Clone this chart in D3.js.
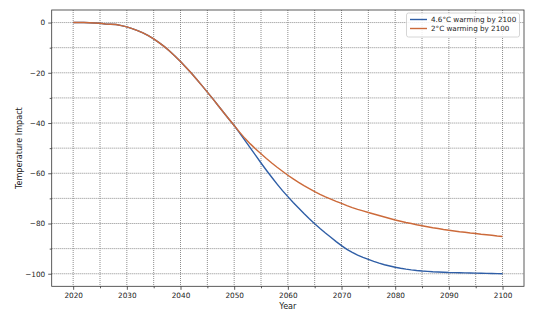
<!DOCTYPE html>
<html><head><meta charset="utf-8">
<script src="https://cdn.jsdelivr.net/npm/d3@7"></script>
<style>body{margin:0;background:#fff}svg{display:block}text{font-family:"DejaVu Sans",sans-serif}</style>
</head><body><svg id="c" width="541" height="322"></svg>
<script>
const years = d3.range(2020, 2101);
const common = [0,0,0,-0.1,-0.2,-0.3,-0.6,-0.7,-0.8,-1.2,-1.7,-2.4,-3.2,-4.1,-5.2,-6.5,-8.0,-9.6,-11.4,-13.4,-15.5,-17.8,-20.1,-22.6,-25.1,-27.7,-30.3,-33.0,-35.7,-38.4,-41.0];
const high = common.concat([-43.9,-46.9,-49.9,-52.9,-55.9,-58.8,-61.6,-64.3,-66.9,-69.3,-71.6,-73.8,-76.0,-78.1,-80.1,-82.0,-83.8,-85.5,-87.2,-88.8,-90.3,-91.5,-92.6,-93.5,-94.3,-95.1,-95.8,-96.4,-96.9,-97.4,-97.8,-98.15,-98.45,-98.7,-98.9,-99.05,-99.2,-99.3,-99.4,-99.5,-99.55,-99.6,-99.65,-99.7,-99.75,-99.8,-99.85,-99.9,-99.95,-100]);
const low = common.concat([-43.6,-46.1,-48.3,-50.3,-52.2,-54.1,-55.9,-57.6,-59.2,-60.8,-62.2,-63.6,-64.9,-66.1,-67.3,-68.4,-69.4,-70.3,-71.2,-72.0,-72.9,-73.7,-74.4,-75.0,-75.6,-76.2,-76.8,-77.4,-78.0,-78.6,-79.1,-79.6,-80.0,-80.5,-80.9,-81.3,-81.7,-82.0,-82.4,-82.7,-83.0,-83.3,-83.5,-83.8,-84.0,-84.3,-84.5,-84.7,-85.0,-85.2]);
const seriesNames = ["4.6°C warming by 2100", "2°C warming by 2100"];
const colors = ["#2f5ea6", "#cc6a3a"];
const xTicks = [2020,2030,2040,2050,2060,2070,2080,2090,2100];
const xMinor = [2025,2035,2045,2055,2065,2075,2085,2095];
const yTicks = [0,-20,-40,-60,-80,-100];
const yMinor = [-10,-30,-50,-70,-90];

const L=51.7, R=524, T=10, B=286.3;
const svg = d3.select("#c");
const x = d3.scaleLinear().domain([2016,2104]).range([L,R]);
const y = d3.scaleLinear().domain([-105,5]).range([B,T]);

// grid
const g = svg.append("g");
xTicks.concat(xMinor).forEach(v=>g.append("line").attr("x1",x(v)).attr("x2",x(v)).attr("y1",T).attr("y2",B)
  .attr("stroke","#808080").attr("stroke-width",0.9).attr("stroke-dasharray","1,1"));
yTicks.concat(yMinor).forEach(v=>g.append("line").attr("y1",y(v)).attr("y2",y(v)).attr("x1",L).attr("x2",R)
  .attr("stroke","#808080").attr("stroke-width",0.9).attr("stroke-dasharray","1,1"));

const fmt = d => d3.format("d")(d).replace("-","\u2212");
const xa = svg.append("g").attr("transform",`translate(0,${B})`).call(d3.axisBottom(x).tickValues(xTicks).tickFormat(d3.format("d")).tickSize(3.5).tickSizeOuter(0));
const xm = svg.append("g").attr("transform",`translate(0,${B})`).call(d3.axisBottom(x).tickValues(xMinor).tickFormat("").tickSize(2).tickSizeOuter(0));
const ya = svg.append("g").attr("transform",`translate(${L},0)`).call(d3.axisLeft(y).tickValues(yTicks).tickFormat(fmt).tickSize(3.5).tickSizeOuter(0));
const ym = svg.append("g").attr("transform",`translate(${L},0)`).call(d3.axisLeft(y).tickValues(yMinor).tickFormat("").tickSize(2).tickSizeOuter(0));
[xa,xm,ya,ym].forEach(a=>{a.select(".domain").remove();a.selectAll("line").attr("stroke","#333").attr("stroke-width",0.8);
  a.selectAll("text").attr("font-size",7.3).attr("fill","#222").attr("font-family","DejaVu Sans");});

const line = d3.line().x((d,i)=>x(years[i])).y(d=>y(d));
[high,low].forEach((s,k)=>svg.append("path").datum(s).attr("d",line).attr("fill","none").attr("stroke",colors[k]).attr("stroke-width",1.4));

// frame
svg.append("rect").attr("x",L).attr("y",T).attr("width",R-L).attr("height",B-T).attr("fill","none").attr("stroke","#333").attr("stroke-width",0.8);

svg.append("text").attr("x",(L+R)/2).attr("y",308.5).attr("text-anchor","middle").attr("font-size",8.1).attr("fill","#222").text("Year");
svg.append("text").attr("transform",`translate(22,${(T+B)/2}) rotate(-90)`).attr("text-anchor","middle").attr("font-size",8.1).attr("fill","#222").text("Temperature Impact");

// legend
const lg = svg.append("g");
lg.append("rect").attr("x",406.5).attr("y",13).attr("width",113).attr("height",24).attr("rx",2).attr("fill","#fff").attr("fill-opacity",0.85).attr("stroke","#ccc").attr("stroke-width",0.8);
seriesNames.forEach((n,k)=>{
  const yy = 19.5 + k*9;
  lg.append("line").attr("x1",410).attr("x2",427).attr("y1",yy).attr("y2",yy).attr("stroke",colors[k]).attr("stroke-width",1.4);
  lg.append("text").attr("x",431).attr("y",yy+2.5).attr("font-size",7.2).attr("fill","#222").text(n);
});
</script></body></html>
